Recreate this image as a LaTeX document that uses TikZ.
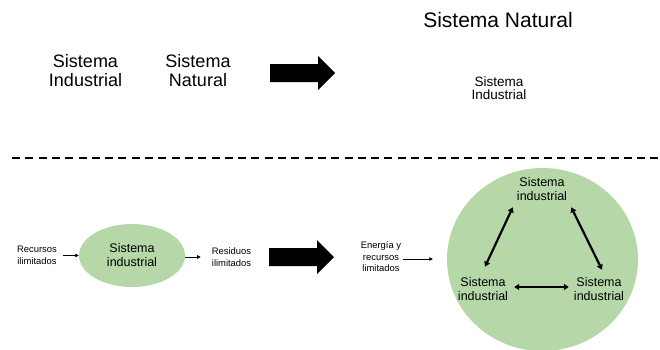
\documentclass[tikz,border=0pt]{standalone}
\usepackage{fontspec}
\setmainfont{Liberation Sans}
\usetikzlibrary{arrows.meta,shapes.geometric}
\definecolor{leafgreen}{HTML}{B6D7A8}

\tikzset{
  lbl/.style={inner sep=0pt, align=center, text=black},
  ftitle/.style={font=\fontsize{21}{24}\selectfont},
  fhead/.style={font=\fontsize{18}{19}\selectfont},
  fsub/.style={font=\fontsize{13.5}{13}\selectfont},
  fnode/.style={font=\fontsize{12.5}{14}\selectfont},
  fnote/.style={font=\fontsize{9.4}{11.5}\selectfont},
  greenblob/.style={ellipse, fill=leafgreen, draw=none, inner sep=0pt, align=center},
  flowarrow/.style={line width=0.8pt, -{Triangle[length=3.5pt,width=3.5pt]}},
  linkarrow/.style={line width=2.2pt, {Triangle[length=5pt,width=6pt]}-{Triangle[length=5pt,width=6pt]}},
  separator/.style={line width=2pt, dash pattern=on 8pt off 5.3pt},
  blockarrow/.pic={
    \fill[black] (0,-9) -- (48,-9) -- (48,-17) -- (65,0) -- (48,17) -- (48,9) -- (0,9) -- cycle;
  }
}

\begin{document}
\begin{tikzpicture}[x=1pt, y=-1pt]
  \useasboundingbox (0,0) rectangle (660,349);

  % upper half: the industrial system inside the natural system
  \node[lbl, ftitle] (natTitle) at (498,20) {Sistema Natural};
  \node[lbl, fhead] (indLeft) at (85.5,71) {Sistema\\Industrial};
  \node[lbl, fhead] (natLeft) at (198,71) {Sistema\\Natural};
  \pic at (270,73) {blockarrow};
  \node[lbl, fsub] (indInside) at (499,88.5) {Sistema\\Industrial};

  % separator
  \draw[separator] (12,157.5) -- (660,157.5);

  % lower left: linear flow
  \node[greenblob, minimum width=106pt, minimum height=63pt, fnode] (linSys) at (132,255.5) {Sistema\\industrial};
  \node[lbl, fnote] (inRes) at (37,255.5) {Recursos\\ilimitados};
  \node[lbl, fnote] (outRes) at (231.5,257) {Residuos\\ilimitados};
  \draw[flowarrow, shorten <=6pt] (inRes.east) -- (linSys.west);
  \draw[flowarrow, shorten >=11pt] (linSys.east |- outRes.west) -- (outRes.west);

  \pic at (269,257) {blockarrow};

  % lower right: cyclic system
  \node[greenblob, minimum width=191pt, minimum height=183pt] (eco) at (542.5,259.5) {};
  \node[lbl, fnote] (energy) at (381,257) {Energía y\\recursos\\limitados};
  \draw[flowarrow, shorten <=2pt, shorten >=14pt] (energy.east |- 0,259) -- (eco.west |- 0,259);

  \node[lbl, fnode] (sysTop) at (542,189) {Sistema\\industrial};
  \node[lbl, fnode] (sysLeft) at (483,289) {Sistema\\industrial};
  \node[lbl, fnode] (sysRight) at (599,289) {Sistema\\industrial};

  \draw[linkarrow] ([xshift=2pt, yshift=10.5pt]sysLeft.north) -- ([xshift=-4pt, yshift=-6.5pt]sysTop.south west);
  \draw[linkarrow] ([xshift=4pt, yshift=-6.5pt]sysTop.south east) -- ([xshift=3pt, yshift=7.5pt]sysRight.north);
  \draw[linkarrow] ([xshift=6pt, yshift=2pt]sysLeft.east) -- ([xshift=-5pt, yshift=2pt]sysRight.west);
\end{tikzpicture}
\end{document}
